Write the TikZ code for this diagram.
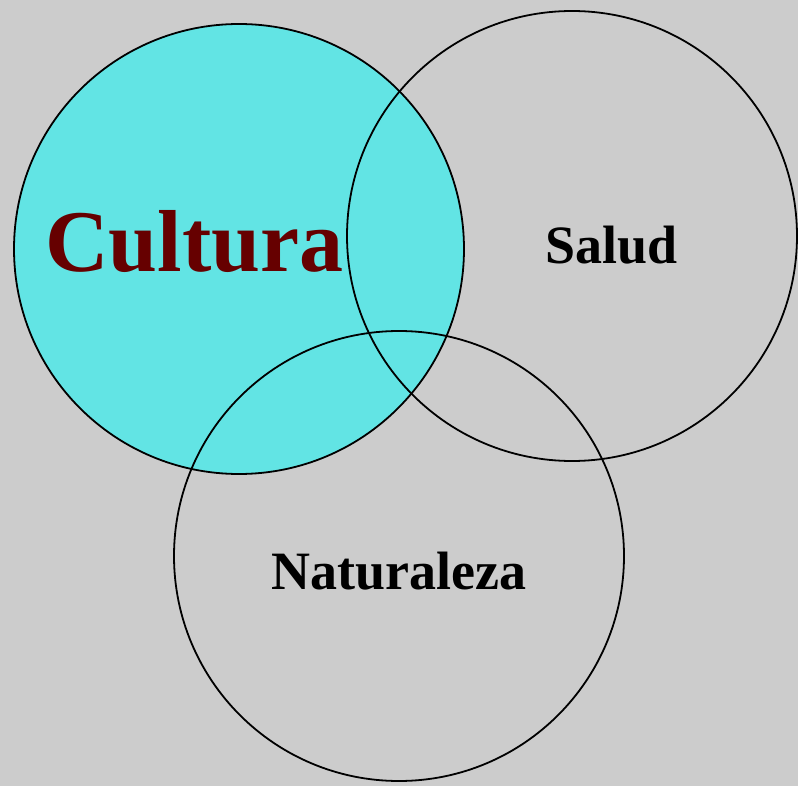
\documentclass[tikz,border=0pt]{standalone}
\usepackage{fontspec}
\setmainfont{Liberation Serif}
\definecolor{bg}{HTML}{CCCCCC}
\definecolor{cyanfill}{HTML}{62E4E4}
\definecolor{darkred}{HTML}{660000}
\begin{document}
\begin{tikzpicture}[x=1pt,y=-1pt,
  ring/.style={draw=black,line width=1.8pt},
  lbl/.style={anchor=base,inner sep=0pt,font=\bfseries\fontsize{54}{54}\selectfont}]
\fill[bg] (0,0) rectangle (798,786);
\useasboundingbox (0,0) rectangle (798,786);
\fill[cyanfill] (239,249) circle[radius=225];
\node[ring,circle,minimum size=450pt,inner sep=0pt] (cultura) at (239,249) {};
\node[ring,circle,minimum size=450pt,inner sep=0pt] (salud) at (572,236) {};
\node[ring,circle,minimum size=450pt,inner sep=0pt] (naturaleza) at (399,556) {};
\node[lbl,text=darkred,font=\bfseries\fontsize{88}{88}\selectfont] (tcultura) at (194.5,272) {Cultura};
\node[lbl] (tsalud) at (611.5,264) {Salud};
\node[lbl] (tnaturaleza) at (399,589) {Naturaleza};
\end{tikzpicture}
\end{document}
